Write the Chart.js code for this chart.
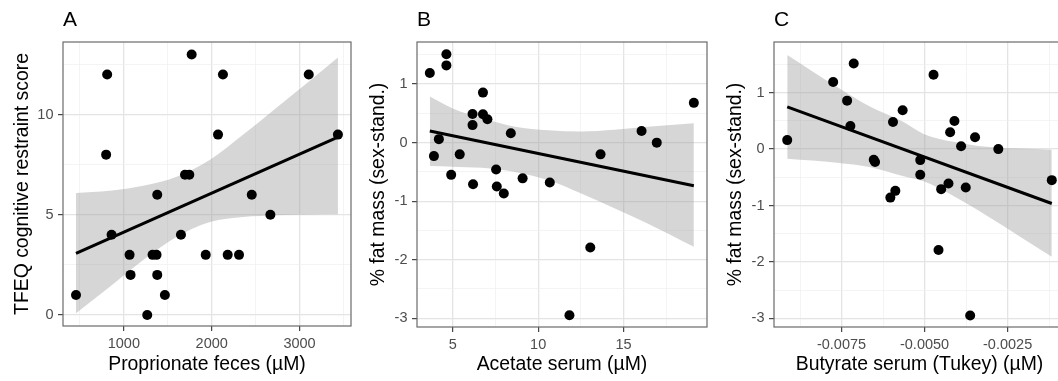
<!DOCTYPE html>
<html><head><meta charset="utf-8">
<script src="https://cdn.jsdelivr.net/npm/chart.js@4"></script>
<style>
html,body{margin:0;padding:0;width:1058px;height:381px;overflow:hidden;background:#fff}
.p{position:absolute;top:0}
canvas{display:block}
</style></head><body>
<div class="p" style="left:0px"><canvas id="cA" width="356" height="381" style="width:356px;height:381px"></canvas></div>
<div class="p" style="left:356px"><canvas id="cB" width="356" height="381" style="width:356px;height:381px"></canvas></div>
<div class="p" style="left:712px"><canvas id="cC" width="360" height="381" style="width:360px;height:381px"></canvas></div>
<script>
// ---------- Panel A data ----------
const xA = [455, 810, 798, 860, 1065, 1076, 1266, 1327, 1372, 1380, 1380, 1467, 1650, 1696, 1745, 1772, 1932, 2072, 2128, 2182, 2311, 2456, 2668, 3105, 3437];
const yA = [1, 12, 8, 4, 3, 2, 0, 3, 3, 6, 2, 1, 4, 7, 7, 13, 3, 9, 12, 3, 3, 6, 5, 12, 9];
const fitXA = [455, 3437];
const fitYA = [3.07, 8.87];
const bandXA = [455, 840, 1220, 1601, 1981, 2360, 2741, 3121, 3437];
const bandUpA = [6.08, 6.2, 6.45, 6.9, 7.75, 9.0, 10.35, 11.7, 12.85];
const bandLoA = [0.08, 1.41, 2.74, 3.90, 4.64, 4.89, 4.98, 5.01, 5.02];
const xTicksA = [1000, 2000, 3000];
const xLabelsA = ['1000', '2000', '3000'];
const xMinorA = [500, 1500, 2500, 3500];
const yTicksA = [0, 5, 10];
const yLabelsA = ['0', '5', '10'];
const yMinorA = [2.5, 7.5, 12.5];

// ---------- Panel B data ----------
const xB = [3.66, 4.63, 4.63, 6.77, 6.16, 6.77, 7.03, 6.16, 8.40, 4.19, 3.90, 5.41, 4.91, 7.54, 9.09, 10.68, 6.19, 7.58, 7.99, 13.65, 16.05, 16.94, 19.11, 13.05, 11.83];
const yB = [1.19, 1.51, 1.32, 0.855, 0.49, 0.485, 0.40, 0.30, 0.16, 0.06, -0.23, -0.20, -0.55, -0.46, -0.61, -0.68, -0.71, -0.75, -0.87, -0.20, 0.20, 0.00, 0.68, -1.79, -2.95];
const fitXB = [3.66, 19.11];
const fitYB = [0.20, -0.735];
const bandXB = [3.66, 4.97, 6.71, 8.65, 10.58, 12.52, 14.46, 16.40, 19.11];
const bandUpB = [0.79, 0.59, 0.42, 0.27, 0.21, 0.19, 0.22, 0.27, 0.33];
const bandLoB = [-0.40, -0.41, -0.43, -0.50, -0.64, -0.87, -1.12, -1.38, -1.78];
const xTicksB = [5, 10, 15];
const xLabelsB = ['5', '10', '15'];
const xMinorB = [7.5, 12.5, 17.5];
const yTicksB = [-3, -2, -1, 0, 1];
const yLabelsB = ['-3', '-2', '-1', '0', '1'];
const yMinorB = [-2.5, -1.5, -0.5, 0.5, 1.5];

// ---------- Panel C data ----------
const xC = [-0.009135, -0.007752, -0.007133, -0.007332, -0.007233, -0.00653, -0.00649, -0.00595, -0.00566, -0.00473, -0.00513, -0.00513, -0.00410, -0.00423, -0.00390, -0.00348, -0.00278, -0.00117, -0.00428, -0.00450, -0.00376, -0.00603, -0.00588, -0.00458, -0.003627];
const yC = [0.16, 1.19, 1.52, 0.86, 0.41, -0.19, -0.23, 0.48, 0.69, 1.32, -0.195, -0.455, 0.50, 0.30, 0.05, 0.21, 0.00, -0.55, -0.61, -0.71, -0.68, -0.86, -0.74, -1.79, -2.95];
const fitXC = [-0.009135, -0.00117];
const fitYC = [0.75, -0.965];
const bandXC = [-0.009135, -0.007632, -0.006632, -0.005631, -0.005030, -0.004129, -0.003125, -0.00117];
const bandUpC = [1.67, 1.10, 0.75, 0.48, 0.27, 0.13, 0.04, -0.01];
const bandLoC = [-0.17, -0.24, -0.32, -0.48, -0.57, -0.83, -1.18, -1.91];
const xTicksC = [-0.0075, -0.005, -0.0025];
const xLabelsC = ['-0.0075', '-0.0050', '-0.0025'];
const xMinorC = [-0.00875, -0.00625, -0.00375, -0.00125];
const yTicksC = [-3, -2, -1, 0, 1];
const yLabelsC = ['-3', '-2', '-1', '0', '1'];
const yMinorC = [-2.5, -1.5, -0.5, 0.5, 1.5];

const FONT = '"Liberation Sans", Arial, Helvetica, sans-serif';
const zip = (xs, ys) => xs.map((x, i) => ({x: x, y: ys[i]}));
const idx = (arr, v) => arr.findIndex(t => Math.abs(t - v) < 1e-9);

const frame = {
  id: 'frame',
  afterDraw(chart) {
    const {ctx, chartArea: a} = chart;
    ctx.save();
    ctx.strokeStyle = '#6a6a6a';
    ctx.lineWidth = 1.2;
    ctx.strokeRect(a.left, a.top, a.right - a.left, a.bottom - a.top);
    ctx.restore();
  }
};

function axis(p) {
  const all = p.major.concat(p.minor).sort((a, b) => a - b);
  const isMaj = v => idx(p.major, v) >= 0;
  return {
    type: 'linear', min: p.min, max: p.max,
    afterBuildTicks: s => { s.ticks = all.map(v => ({value: v})); },
    afterFit: s => { if (p.w !== undefined) s.width = p.w; if (p.h !== undefined) s.height = p.h; },
    ticks: {
      autoSkip: false, maxRotation: 0, minRotation: 0,
      padding: p.tpad,
      color: '#4d4d4d',
      font: {family: FONT, size: 14.5, lineHeight: 1.2},
      callback: v => { const i = idx(p.major, v); return i >= 0 ? p.labels[i] : ''; }
    },
    grid: {
      color: c => (c.tick && isMaj(c.tick.value)) ? '#e4e4e4' : '#efefef',
      lineWidth: c => (c.tick && isMaj(c.tick.value)) ? 1.3 : 0.7,
      tickColor: c => (c.tick && isMaj(c.tick.value)) ? '#333' : 'rgba(0,0,0,0)',
      tickLength: 5,
      tickWidth: 1.1,
      drawTicks: true
    },
    border: {display: false},
    title: {
      display: true, text: p.title, color: '#000',
      font: {family: FONT, size: 19.4, lineHeight: 1},
      padding: p.titlePad
    }
  };
}

function panel(id, d) {
  new Chart(document.getElementById(id), {
    type: 'scatter',
    data: {
      datasets: [
        {data: zip(d.x, d.y), pointRadius: 5, pointBackgroundColor: '#000', pointBorderWidth: 0, showLine: false},
        {type: 'line', data: zip(d.fitX, d.fitY), borderColor: '#000', borderWidth: 3, pointRadius: 0, showLine: true, fill: false},
        {type: 'line', data: zip(d.bandX, d.bandUp), borderWidth: 0, borderColor: 'rgba(0,0,0,0)', pointRadius: 0, showLine: true,
         cubicInterpolationMode: 'monotone', fill: '+1', backgroundColor: 'rgba(153,153,153,0.4)'},
        {type: 'line', data: zip(d.bandX, d.bandLo), borderWidth: 0, borderColor: 'rgba(0,0,0,0)', pointRadius: 0, showLine: true,
         cubicInterpolationMode: 'monotone', fill: false}
      ]
    },
    options: {
      responsive: false, animation: false, events: [],
      layout: {padding: {left: 0, right: d.rp, top: 0, bottom: 0}},
      plugins: {
        legend: {display: false}, tooltip: {enabled: false},
        title: {display: true, text: d.letter, align: 'start', fullSize: false, color: '#000',
                font: {family: FONT, size: 21, weight: 'normal', lineHeight: 1.2},
                padding: {top: 7.4, bottom: 9.4}}
      },
      scales: {
        x: axis({min: d.xmin, max: d.xmax, major: d.xt, labels: d.xl, minor: d.xm, h: d.xh, tpad: 4,
                 title: d.xtitle, titlePad: {top: 0, bottom: 7}}),
        y: axis({min: d.ymin, max: d.ymax, major: d.yt, labels: d.yl, minor: d.ym, w: d.yw, tpad: 4.5,
                 title: d.ytitle, titlePad: {top: d.ytp, bottom: 0}})
      }
    },
    plugins: [frame]
  });
}

panel('cA', {letter: 'A', x: xA, y: yA, fitX: fitXA, fitY: fitYA, bandX: bandXA, bandUp: bandUpA, bandLo: bandLoA,
  xmin: 307, xmax: 3586, ymin: -0.55, ymax: 13.62, xt: xTicksA, xl: xLabelsA, xm: xMinorA, yt: yTicksA, yl: yLabelsA, ym: yMinorA,
  xtitle: 'Proprionate feces (µM)', ytitle: 'TFEQ cognitive restraint score', yw: 63, xh: 55, rp: 5, ytp: 12.5});
panel('cB', {letter: 'B', x: xB, y: yB, fitX: fitXB, fitY: fitYB, bandX: bandXB, bandUp: bandUpB, bandLo: bandLoB,
  xmin: 2.91, xmax: 19.88, ymin: -3.15, ymax: 1.72, xt: xTicksB, xl: xLabelsB, xm: xMinorB, yt: yTicksB, yl: yLabelsB, ym: yMinorB,
  xtitle: 'Acetate serum (µM)', ytitle: '% fat mass (sex-stand.)', yw: 61, xh: 54, rp: 4, ytp: 12.5});
panel('cC', {letter: 'C', x: xC, y: yC, fitX: fitXC, fitY: fitYC, bandX: bandXC, bandUp: bandUpC, bandLo: bandLoC,
  xmin: -0.009533, xmax: -0.000772, ymin: -3.155, ymax: 1.90, xt: xTicksC, xl: xLabelsC, xm: xMinorC, yt: yTicksC, yl: yLabelsC, ym: yMinorC,
  xtitle: 'Butyrate serum (Tukey) (µM)', ytitle: '% fat mass (sex-stand.)', yw: 62, xh: 54, rp: 7, ytp: 13.9});
</script>
</body></html>
